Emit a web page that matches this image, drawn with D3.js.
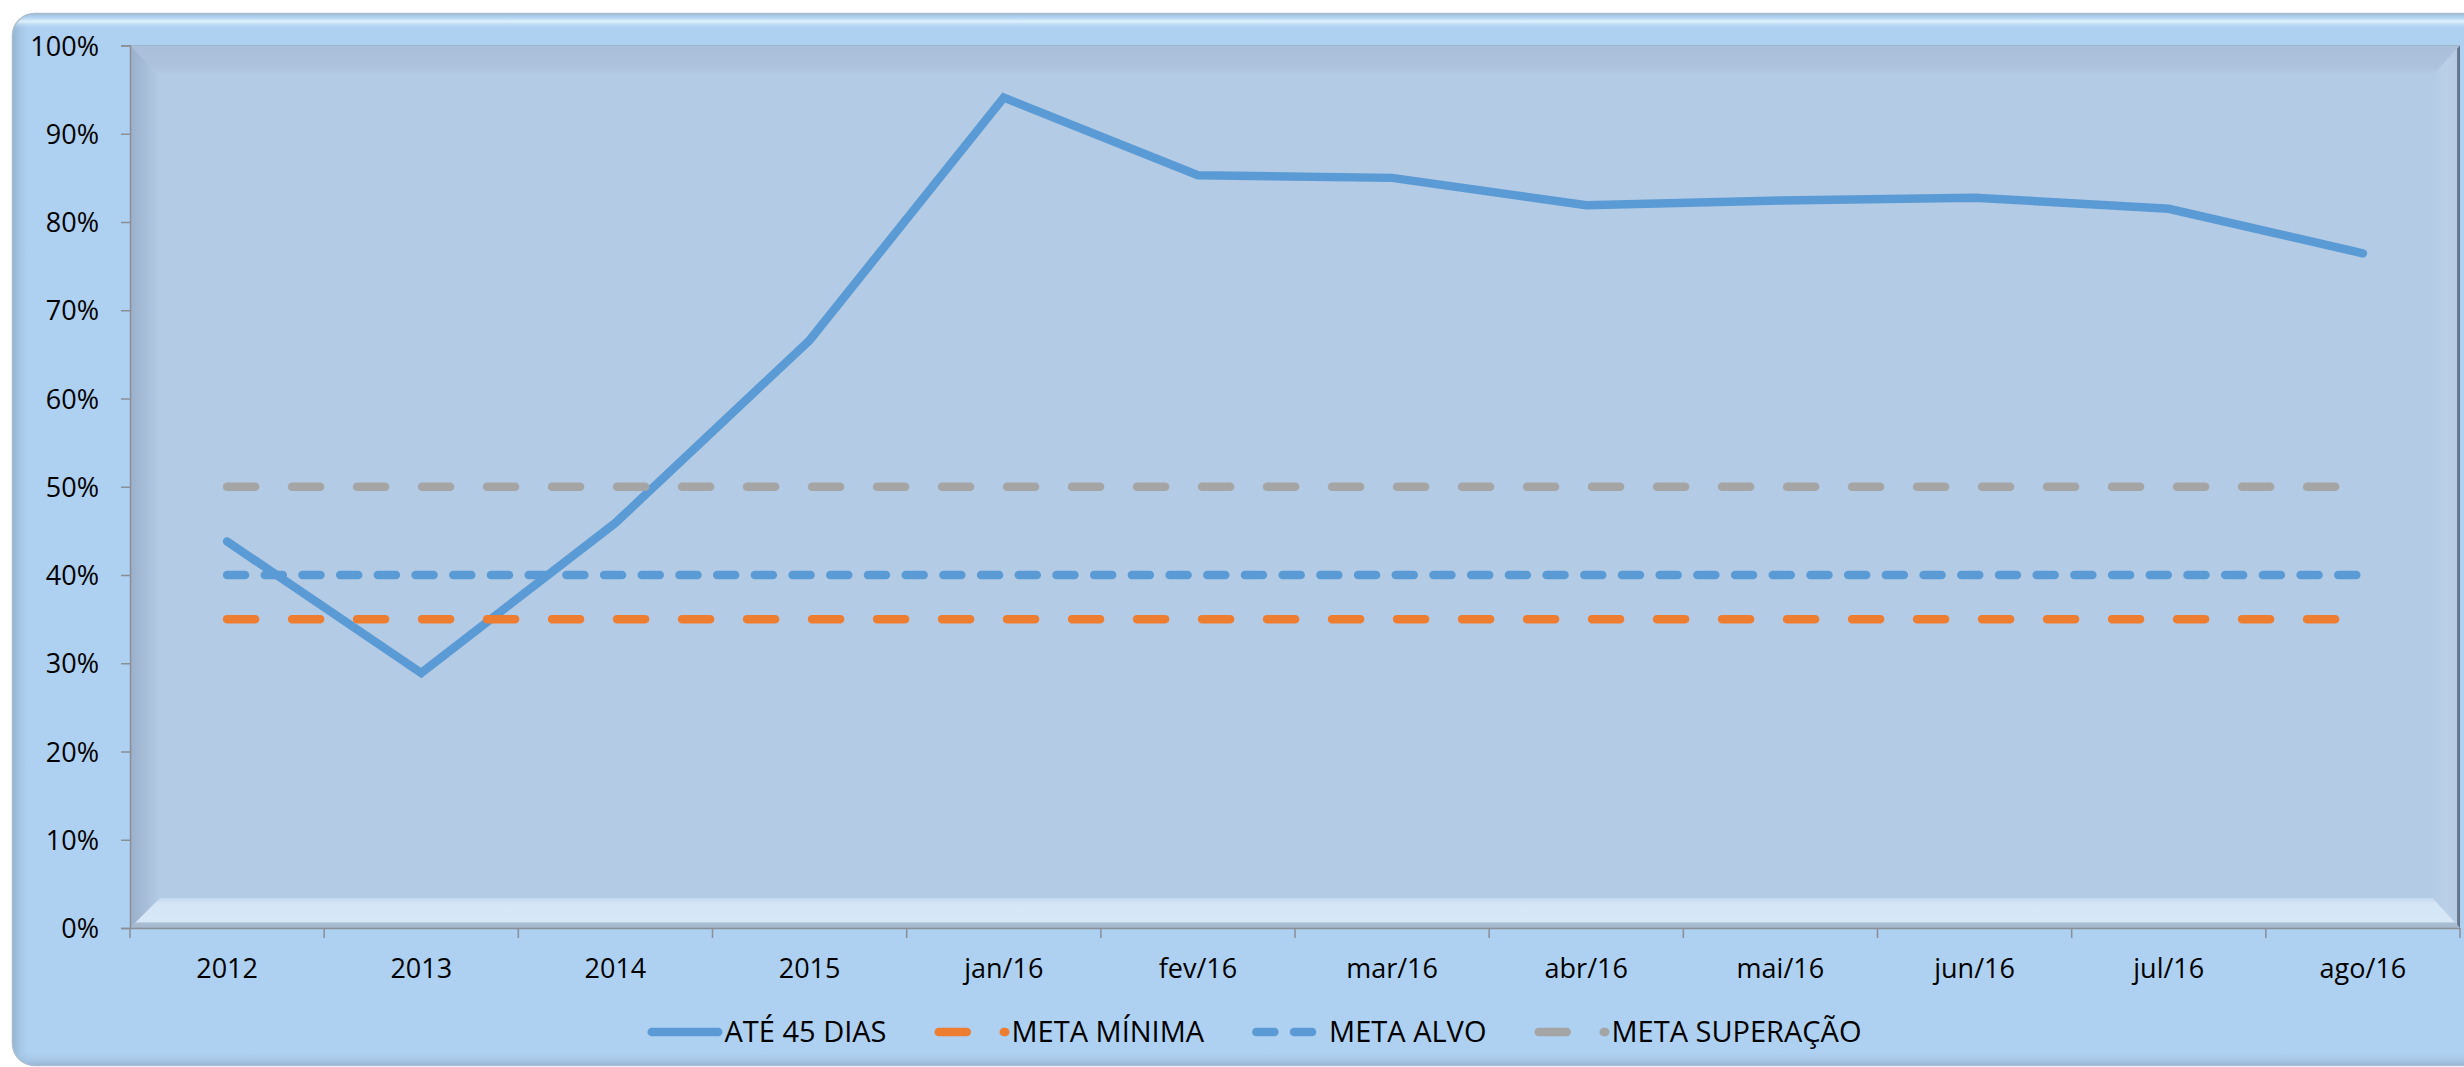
<!DOCTYPE html>
<html lang="pt">
<head>
<meta charset="utf-8">
<title>Até 45 dias</title>
<script src="https://cdn.jsdelivr.net/npm/d3@7/dist/d3.min.js"></script>
<style>
  html, body { margin: 0; padding: 0; background: #ffffff; }
  svg { display: block; }
  text { font-family: "Open Sans", "Noto Sans", sans-serif; fill: #000; }
</style>
</head>
<body>
<svg id="chart" width="2464" height="1067"></svg>
<script>
// ---- data ----
const categories = ["2012", "2013", "2014", "2015", "jan/16", "fev/16", "mar/16",
                    "abr/16", "mai/16", "jun/16", "jul/16", "ago/16"];
const ate45Dias      = [0.438, 0.289, 0.459, 0.666, 0.941, 0.853, 0.850, 0.819, 0.8245, 0.8275, 0.815, 0.7645];
const metaMinima     = [0.35, 0.35, 0.35, 0.35, 0.35, 0.35, 0.35, 0.35, 0.35, 0.35, 0.35, 0.35];
const metaAlvo       = [0.40, 0.40, 0.40, 0.40, 0.40, 0.40, 0.40, 0.40, 0.40, 0.40, 0.40, 0.40];
const metaSuperacao  = [0.50, 0.50, 0.50, 0.50, 0.50, 0.50, 0.50, 0.50, 0.50, 0.50, 0.50, 0.50];
const yTickValues    = [0, 0.1, 0.2, 0.3, 0.4, 0.5, 0.6, 0.7, 0.8, 0.9, 1.0];
const seriesNames    = ["ATÉ 45 DIAS", "META MÍNIMA", "META ALVO", "META SUPERAÇÃO"];

const series = [
  { name: seriesNames[0], values: ate45Dias,     color: "#5b9bd5", dash: null },
  { name: seriesNames[1], values: metaMinima,    color: "#ed7d31", dash: "28 37" },
  { name: seriesNames[2], values: metaAlvo,      color: "#5b9bd5", dash: "18 19.7" },
  { name: seriesNames[3], values: metaSuperacao, color: "#a5a5a5", dash: "28 37" }
];

// ---- layout ----
const W = 2464, H = 1067;
const L = 130, R = 2460, T = 45.5, B = 928;
const LW = 8.5;

const svg = d3.select("#chart");
const defs = svg.append("defs");

function linGrad(id, x1, y1, x2, y2, stops) {
  const g = defs.append("linearGradient").attr("id", id)
    .attr("x1", x1).attr("y1", y1).attr("x2", x2).attr("y2", y2);
  stops.forEach(s => g.append("stop").attr("offset", s[0])
    .attr("stop-color", s[1]).attr("stop-opacity", s[2] === undefined ? 1 : s[2]));
  return "url(#" + id + ")";
}

// ---- chart area (rounded frame) ----
const frame = { x: 12.5, y: 13.5, w: 2480, h: 1052, r: 22 };
defs.append("clipPath").attr("id", "frameClip")
  .append("rect").attr("x", frame.x).attr("y", frame.y)
  .attr("width", frame.w).attr("height", frame.h).attr("rx", frame.r);

const area = svg.append("g").attr("clip-path", "url(#frameClip)");
area.append("rect").attr("x", frame.x).attr("y", frame.y)
  .attr("width", frame.w).attr("height", frame.h).attr("fill", "#aed0f1");
// left edge shading
area.append("rect").attr("x", frame.x).attr("y", frame.y).attr("width", 18).attr("height", frame.h)
  .attr("fill", linGrad("gLeftEdge", 0, 0, 1, 0, [[0, "#7f98b4", 0.55], [1, "#aed0f1", 0]]));
// bottom edge shading
area.append("rect").attr("x", frame.x).attr("y", 1050).attr("width", frame.w).attr("height", 17)
  .attr("fill", linGrad("gBottomEdge", 0, 0, 0, 1, [[0, "#aed0f1", 0], [1, "#7f98b4", 0.55]]));
// top highlight band
area.append("rect").attr("x", frame.x).attr("y", 15).attr("width", frame.w).attr("height", 14)
  .attr("fill", linGrad("gTopHi", 0, 0, 0, 1, [[0, "#aed0f1", 0], [0.45, "#eaf8ff", 0.85], [1, "#aed0f1", 0]]));
area.append("rect").attr("x", frame.x).attr("y", frame.y).attr("width", frame.w).attr("height", 5)
  .attr("fill", linGrad("gTopEdge", 0, 0, 0, 1, [[0, "#9ab1c8", 0.8], [1, "#aed0f1", 0]]));
svg.append("rect").attr("x", frame.x).attr("y", frame.y)
  .attr("width", frame.w).attr("height", frame.h).attr("rx", frame.r)
  .attr("fill", "none").attr("stroke", "#a9bdd1").attr("stroke-width", 1.5);

// ---- plot area with bevel ----
const plot = svg.append("g");
plot.append("rect").attr("x", L).attr("y", T).attr("width", R - L).attr("height", B - T)
  .attr("fill", "#b4cbe5");
const bt = 29, bl = 30, bb = 30, br = 27;
plot.append("polygon")
  .attr("points", [[L, T], [R, T], [R - br, T + bt], [L + bl, T + bt]].join(" "))
  .attr("fill", linGrad("gTop", 0, 0, 0, 1, [[0, "#aac0da"], [0.75, "#adc3dd"], [1, "#b4cbe5"]]));
plot.append("polygon")
  .attr("points", [[L, T], [L + bl, T + bt], [L + bl, B - bb], [L, B]].join(" "))
  .attr("fill", linGrad("gLeft", 0, 0, 1, 0, [[0, "#99afca"], [1, "#b4cbe5"]]));
plot.append("polygon")
  .attr("points", [[L, B], [L + bl, B - bb], [R - br, B - bb], [R, B]].join(" "))
  .attr("fill", linGrad("gBottom", 0, 0, 0, 1, [[0, "#c4d8ee"], [0.2, "#d5e6f6"], [0.8, "#d6e7f7"], [0.83, "#a9bdd3"], [1, "#a3b7cd"]]));
plot.append("polygon")
  .attr("points", [[R, T], [R, B], [R - br, B - bb], [R - br, T + bt]].join(" "))
  .attr("fill", linGrad("gRight", 0, 0, 1, 0, [[0, "#b4cbe5"], [0.5, "#bad0e8"], [0.88, "#b6cce4"], [0.9, "#6f7f93"], [1, "#5f6f83"]]));
plot.append("line").attr("x1", L).attr("x2", R).attr("y1", T).attr("y2", T)
  .attr("stroke", "#9fb4cb").attr("stroke-width", 1);

// ---- scales ----
const x = d3.scaleBand().domain(categories).range([L, R]).padding(0);
const cx = c => x(c) + x.bandwidth() / 2;
const y = d3.scaleLinear().domain([0, 1]).range([B, T]);

// ---- axes ----
const yAxis = svg.append("g").attr("transform", `translate(${L},0)`)
  .call(d3.axisLeft(y).tickValues(yTickValues).tickFormat(d3.format(".0%"))
    .tickSize(9).tickPadding(22));
yAxis.select(".domain").attr("stroke", "#8a8f96").attr("stroke-width", 1.5);
yAxis.selectAll(".tick line").attr("stroke", "#8a8f96").attr("stroke-width", 1.5);
yAxis.selectAll(".tick text").attr("font-size", 27).attr("dy", "0.36em")
  .style("font-family", "'Open Sans', 'Noto Sans', sans-serif").attr("fill", "#000");

const xAxis = svg.append("g").attr("transform", `translate(0,${B})`)
  .call(d3.axisBottom(x).tickSize(0).tickSizeOuter(0));
xAxis.select(".domain").attr("stroke", "#8a8f96").attr("stroke-width", 1.5);
xAxis.selectAll(".tick text").attr("font-size", 27).attr("y", 50).attr("dy", 0)
  .style("font-family", "'Open Sans', 'Noto Sans', sans-serif").attr("fill", "#000");
// ticks at category boundaries
const boundaries = categories.map(c => x(c)).concat([x.range()[1]]);
xAxis.selectAll(".bound").data(boundaries).join("line").attr("class", "bound")
  .attr("x1", d => d).attr("x2", d => d).attr("y1", 0).attr("y2", 10)
  .attr("stroke", "#8a8f96").attr("stroke-width", 1.5);

// ---- series ----
const line = d3.line().x((d, i) => cx(categories[i])).y(d => y(d));
const lines = svg.append("g");
series.forEach(s => {
  lines.append("path").datum(s.values)
    .attr("d", line)
    .attr("fill", "none")
    .attr("stroke", s.color)
    .attr("stroke-width", LW)
    .attr("stroke-linecap", "round")
    .attr("stroke-linejoin", "miter")
    .attr("stroke-dasharray", s.dash);
});

// ---- legend ----
const legend = svg.append("g");
const legendY = 1032;
const sampleLen = 75;
const legendGap = 48;
let cursor = 0;
series.forEach(s => {
  const g = legend.append("g");
  g.append("line").attr("x1", LW / 2).attr("x2", sampleLen - LW / 2)
    .attr("y1", legendY).attr("y2", legendY)
    .attr("stroke", s.color).attr("stroke-width", LW)
    .attr("stroke-linecap", "round").attr("stroke-dasharray", s.dash);
  const t = g.append("text").attr("x", sampleLen + 2).attr("y", legendY).attr("dy", "0.36em")
    .attr("font-size", 29).text(s.name);
  const w = sampleLen + 2 + t.node().getComputedTextLength();
  g.attr("transform", `translate(${cursor},0)`);
  cursor += w + legendGap;
});
const legendWidth = cursor - legendGap;
legend.attr("transform", `translate(${1254.5 - legendWidth / 2},0)`);
</script>
</body>
</html>
